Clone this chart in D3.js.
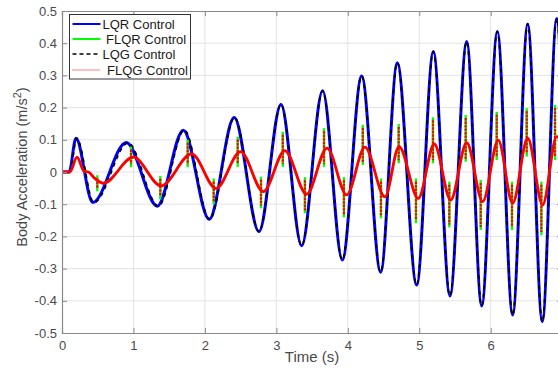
<!DOCTYPE html>
<html>
<head>
<meta charset="utf-8">
<script src="https://cdn.jsdelivr.net/npm/d3@7"></script>
<style>
  body { margin: 0; background: #fff; }
  svg { display: block; font-family: "Liberation Sans", Arial, sans-serif; }
</style>
</head>
<body>
<div id="chart"></div>
<script>
// Body acceleration vs time for four controllers (extrema of each wave)

// LQR (blue) - peaks and troughs
const lqrTime = [0, 0.10, 0.195, 0.43, 0.90, 1.334, 1.698, 2.06, 2.41, 2.757, 3.065, 3.354, 3.648, 3.923, 4.194, 4.46, 4.693, 4.964, 5.197, 5.43, 5.664, 5.874, 6.093, 6.307, 6.518, 6.722, 6.924, 7.0];
const lqrVal  = [0, 0, 0.105, -0.095, 0.092, -0.106, 0.130, -0.147, 0.169, -0.185, 0.210, -0.229, 0.252, -0.273, 0.298, -0.311, 0.339, -0.351, 0.374, -0.385, 0.405, -0.416, 0.436, -0.444, 0.460, -0.465, 0.477, 0.20];

// LQG (black dashed) - lags LQR a little at the start
const lqgTime = [0, 0.11, 0.205, 0.445, 0.925, 1.35, 1.712, 2.068, 2.415, 2.757, 3.065, 3.354, 3.648, 3.923, 4.194, 4.46, 4.693, 4.964, 5.197, 5.43, 5.664, 5.874, 6.093, 6.307, 6.518, 6.722, 6.924, 7.0];
const lqgVal  = [0, 0, 0.105, -0.095, 0.090, -0.106, 0.130, -0.147, 0.169, -0.185, 0.210, -0.229, 0.252, -0.273, 0.298, -0.311, 0.339, -0.351, 0.374, -0.385, 0.405, -0.416, 0.436, -0.444, 0.460, -0.465, 0.477, 0.20];

// FLQR / FLQG (green / red dotted) - smooth part
const flqTime = [0, 0.11, 0.21, 0.31, 0.37, 0.46, 0.58, 1.0, 1.386, 1.815, 2.155, 2.50, 2.817, 3.12, 3.424, 3.71, 3.985, 4.24, 4.52, 4.717, 4.987, 5.21, 5.44, 5.664, 5.888, 6.106, 6.307, 6.518, 6.727, 6.924, 7.0];
const flqVal  = [0, 0, 0.046, 0.002, 0.0, -0.02, -0.035, 0.046, -0.043, 0.056, -0.051, 0.063, -0.061, 0.066, -0.069, 0.074, -0.071, 0.077, -0.077, 0.079, -0.082, 0.087, -0.087, 0.091, -0.092, 0.099, -0.097, 0.105, -0.102, 0.110, 0.09];

// FLQR / FLQG - vertical spikes (time, upper end, lower end)
const spikeTime = [0.494, 0.966, 1.376, 1.759, 2.123, 2.459, 2.785, 3.09, 3.40, 3.667, 3.946, 4.21, 4.464, 4.712, 4.954, 5.192, 5.421, 5.65, 5.86, 6.084, 6.298, 6.504, 6.709, 6.90];
const spikeHi   = [-0.01, 0.079, -0.012, 0.10, -0.02, 0.11, -0.015, 0.125, -0.016, 0.136, -0.016, 0.146, -0.02, 0.149, -0.02, 0.17, -0.03, 0.177, -0.025, 0.187, -0.03, 0.198, -0.03, 0.208];
const spikeLo   = [-0.06, 0.015, -0.085, 0.015, -0.10, 0.016, -0.113, 0.016, -0.128, 0.016, -0.141, 0.022, -0.144, 0.027, -0.159, 0.027, -0.172, 0.032, -0.18, 0.037, -0.18, 0.048, -0.196, 0.037];

const xTicks = [0, 1, 2, 3, 4, 5, 6, 7];
const xTickLabels = ["0", "1", "2", "3", "4", "5", "6", ""];   // 7 falls outside the cropped figure
const yTicks = [-0.5, -0.4, -0.3, -0.2, -0.1, 0, 0.1, 0.2, 0.3, 0.4, 0.5];
const yTickLabels = ["-0.5", "-0.4", "-0.3", "-0.2", "-0.1", "0", "0.1", "0.2", "0.3", "0.4", "0.5"];
const legendNames = ["LQR Control", "FLQR Control", "LQG Control", "FLQG Control"];

// chart size
const width = 558;
const height = 377;
const marginLeft = 62;
const marginTop = 11;
const plotBottom = 333;
const pxPerSec = 71.45;

const svg = d3.select("#chart").append("svg")
    .attr("width", width)
    .attr("height", height);

const x = d3.scaleLinear().domain([0, 7]).range([marginLeft, marginLeft + 7 * pxPerSec]);
const y = d3.scaleLinear().domain([-0.5, 0.5]).range([plotBottom, marginTop]);

const axisGray = "#8a8a8a";
const textGray = "#4a4a4a";

// grid
svg.append("g").selectAll("line")
    .data(xTicks.slice(1, -1))
    .join("line")
    .attr("x1", d => x(d)).attr("x2", d => x(d))
    .attr("y1", y(-0.5)).attr("y2", y(0.5))
    .attr("stroke", "#e3e3e3").attr("stroke-width", 1);
svg.append("g").selectAll("line")
    .data(yTicks.slice(1, -1))
    .join("line")
    .attr("x1", x(0)).attr("x2", x(7))
    .attr("y1", d => y(d)).attr("y2", d => y(d))
    .attr("stroke", "#e3e3e3").attr("stroke-width", 1);

// line generator
const line = d3.line()
    .x(d => x(d[0]))
    .y(d => y(d[1]))
    .curve(d3.curveMonotoneX);

const lqr = lqrTime.map((t, i) => [t, lqrVal[i]]);
const lqg = lqgTime.map((t, i) => [t, lqgVal[i]]);
const flq = flqTime.map((t, i) => [t, flqVal[i]]);
const spikes = spikeTime.map((t, i) => ({ t: t, hi: spikeHi[i], lo: spikeLo[i] }));

const plot = svg.append("g");

// LQR
plot.append("path")
    .attr("d", line(lqr))
    .attr("fill", "none")
    .attr("stroke", "#0000ff")
    .attr("stroke-width", 3);

// LQG
plot.append("path")
    .attr("d", line(lqg))
    .attr("fill", "none")
    .attr("stroke", "#000")
    .attr("stroke-width", 1.8)
    .attr("stroke-dasharray", "4,4");

// FLQR smooth + spikes
plot.append("path")
    .attr("d", line(flq))
    .attr("fill", "none")
    .attr("stroke", "#00ff00")
    .attr("stroke-width", 2);
plot.selectAll("line.sg")
    .data(spikes)
    .join("line")
    .attr("class", "sg")
    .attr("x1", d => x(d.t)).attr("x2", d => x(d.t))
    .attr("y1", d => y(d.hi)).attr("y2", d => y(d.lo))
    .attr("stroke", "#00ff00")
    .attr("stroke-width", 2.4);

// FLQG dotted
plot.append("path")
    .attr("d", line(flq))
    .attr("fill", "none")
    .attr("stroke", "#ff0000")
    .attr("stroke-width", 2.8);
plot.selectAll("line.sr")
    .data(spikes)
    .join("line")
    .attr("class", "sr")
    .attr("x1", d => x(d.t)).attr("x2", d => x(d.t))
    .attr("y1", d => y(d.hi) + 3).attr("y2", d => y(d.lo) - 3)
    .attr("stroke", "#ff0000")
    .attr("stroke-width", 2.2)
    .attr("stroke-dasharray", "2.5,1");

// axes (box with inward ticks)
svg.append("g")
    .attr("transform", `translate(0,${plotBottom})`)
    .call(d3.axisBottom(x).tickValues(xTicks).tickSize(-5).tickPadding(8).tickFormat((d, i) => xTickLabels[i]));
svg.append("g")
    .attr("transform", `translate(${marginLeft},0)`)
    .call(d3.axisLeft(y).tickValues(yTicks).tickSize(-5).tickPadding(5).tickFormat((d, i) => yTickLabels[i]));
svg.append("g")
    .attr("transform", `translate(0,${marginTop})`)
    .call(d3.axisTop(x).tickValues(xTicks).tickSize(-5).tickFormat(""));
svg.append("g")
    .attr("transform", `translate(${x(7)},0)`)
    .call(d3.axisRight(y).tickValues(yTicks).tickSize(-5).tickFormat(""));

svg.selectAll(".domain").attr("stroke", axisGray).attr("stroke-width", 1.2);
svg.selectAll(".tick line").attr("stroke", axisGray);
svg.selectAll(".tick text")
    .attr("fill", textGray)
    .style("font-size", "13px")
    .style("font-family", "'Liberation Sans', Arial, sans-serif");

// axis labels
svg.append("text")
    .attr("x", x(3.5))
    .attr("y", 362)
    .attr("text-anchor", "middle")
    .attr("fill", textGray)
    .style("font-size", "15px")
    .text("Time (s)");

const yl = svg.append("text")
    .attr("transform", "translate(27,167) rotate(-90)")
    .attr("text-anchor", "middle")
    .attr("fill", textGray)
    .style("font-size", "14.5px");
yl.append("tspan").text("Body Acceleration (m/s");
yl.append("tspan").attr("dy", -6).style("font-size", "11px").text("2");
yl.append("tspan").attr("dy", 6).text(")");

// legend
const legend = svg.append("g");
legend.append("rect")
    .attr("x", 69.5).attr("y", 14.5)
    .attr("width", 121).attr("height", 64.5)
    .attr("fill", "#fff")
    .attr("stroke", "#333")
    .attr("stroke-width", 1);

const legendY = [24, 39, 54, 70];
const legendTextX = [102.5, 106, 102.5, 107];
const legendStyle = [
    { color: "#0000ff", width: 2, dash: null },
    { color: "#00ff00", width: 2, dash: null },
    { color: "#000", width: 1.6, dash: "4,3" },
    { color: "#ff0000", width: 1, dash: "1,1" }
];
legendNames.forEach((name, i) => {
    legend.append("line")
        .attr("x1", 72.5).attr("x2", 100.5)
        .attr("y1", legendY[i]).attr("y2", legendY[i])
        .attr("stroke", legendStyle[i].color)
        .attr("stroke-width", legendStyle[i].width)
        .attr("stroke-dasharray", legendStyle[i].dash);
    legend.append("text")
        .attr("x", legendTextX[i])
        .attr("y", legendY[i] + 4.5)
        .attr("fill", "#1a1a1a")
        .style("font-size", "13px")
        .text(name);
});
</script>
</body>
</html>
